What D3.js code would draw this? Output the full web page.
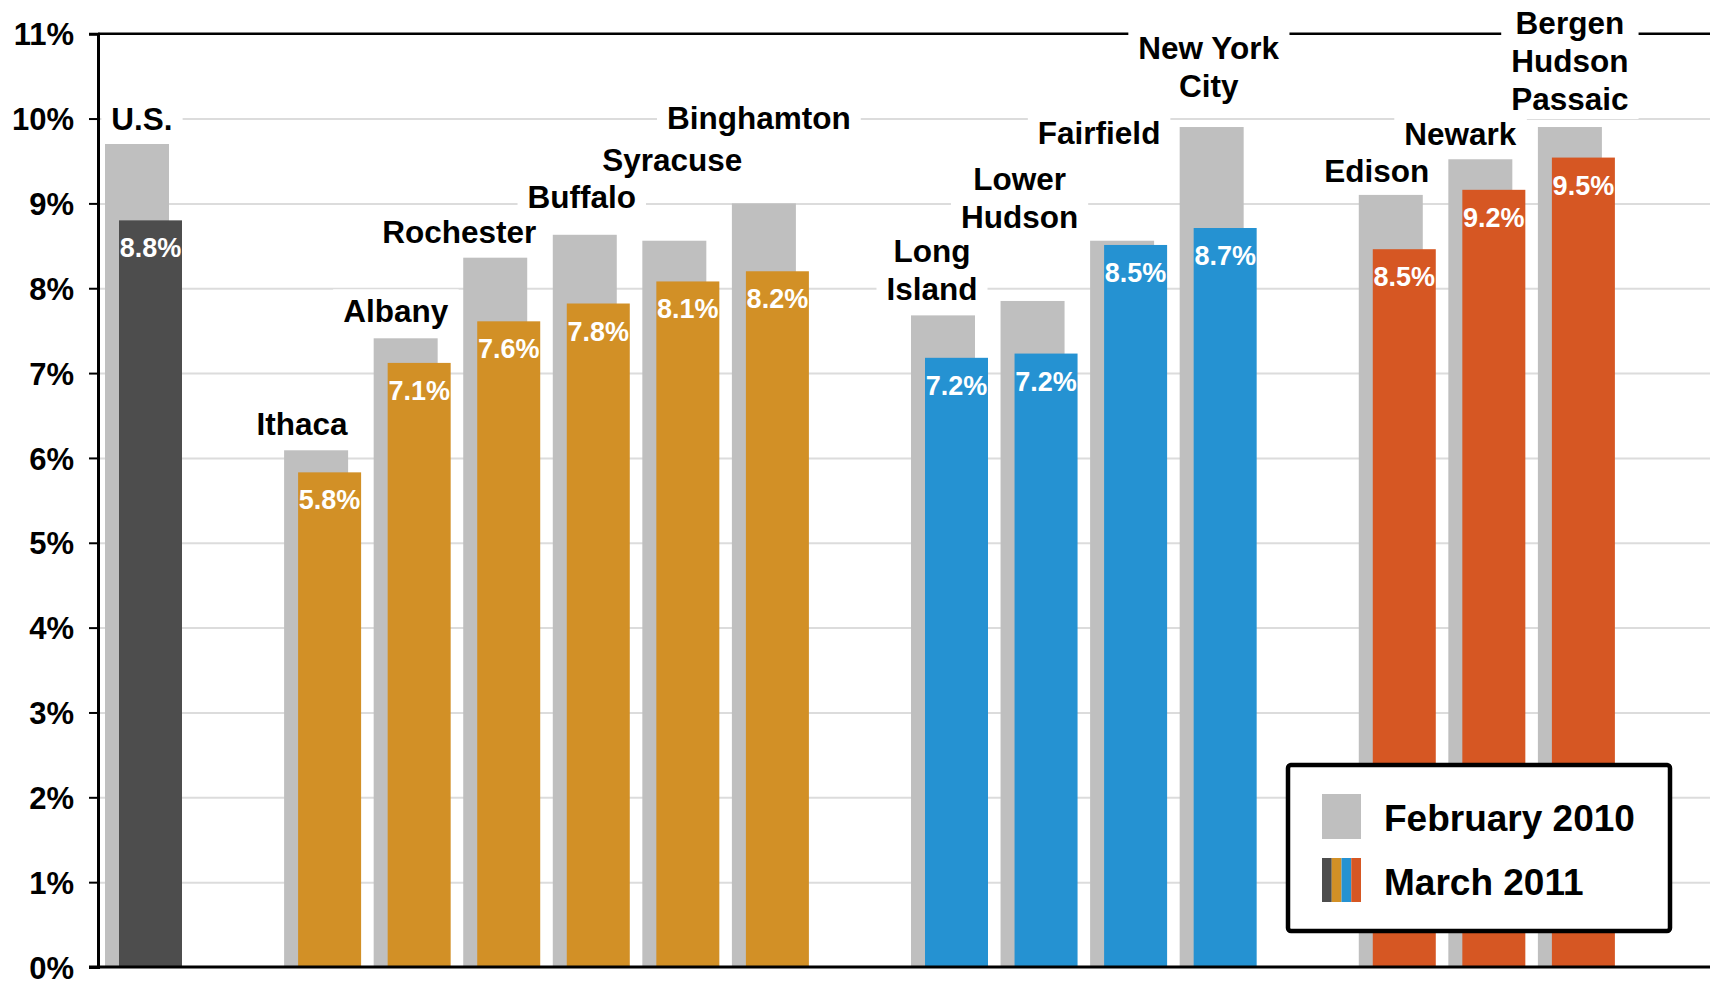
<!DOCTYPE html>
<html lang="en">
<head>
<meta charset="UTF-8">
<title>Unemployment rates</title>
<script src="https://d3js.org/d3.v7.min.js"></script>
<style>
  body { margin: 0; padding: 0; background: #fff; }
  svg { display: block; font-family: "Liberation Sans", Arial, sans-serif; font-weight: bold; }
</style>
</head>
<body>
<div id="chart"></div>
<script>
// data
var categories = ["U.S.", "Ithaca", "Albany", "Rochester", "Buffalo", "Syracuse", "Binghamton",
  "Long Island", "Lower Hudson", "Fairfield", "New York City", "Edison", "Newark", "Bergen Hudson Passaic"];
var labelLines = [["U.S."], ["Ithaca"], ["Albany"], ["Rochester"], ["Buffalo"], ["Syracuse"], ["Binghamton"],
  ["Long", "Island"], ["Lower", "Hudson"], ["Fairfield"], ["New York", "City"], ["Edison"], ["Newark"],
  ["Bergen", "Hudson", "Passaic"]];
var groups = ["us", "ny", "ny", "ny", "ny", "ny", "ny", "li", "li", "li", "li", "nj", "nj", "nj"];
var slots = [0, 2, 3, 4, 5, 6, 7, 9, 10, 11, 12, 14, 15, 16];
var feb2010 = [9.7, 6.09, 7.41, 8.36, 8.63, 8.56, 9.0, 7.68, 7.85, 8.56, 9.9, 9.1, 9.52, 9.9];
var mar2011 = [8.8, 5.83, 7.12, 7.61, 7.82, 8.08, 8.2, 7.18, 7.23, 8.51, 8.71, 8.46, 9.16, 9.54];
var yTicks = [0, 1, 2, 3, 4, 5, 6, 7, 8, 9, 10, 11];
var seriesNames = ["February 2010", "March 2011"];

// layout
var W = 1710, H = 989;
var plotLeft = 98, plotTop = 33.7, plotBottom = 967;
var colors = { feb: "#bfbfbf", us: "#4d4d4d", ny: "#d29026", li: "#2592d2", nj: "#d65723" };
// label nudges: dx from grey bar centre, lift above grey bar top
var nudge = [[5, 14], [-14, 15], [-10, 16], [-36, 15], [-3, 27], [-2, 70], [-5, 74],
  [-11, 15], [-13, 73], [-23, 97], [-3, 30], [-14, 13], [-20, 14], [0, 17]];

var svg = d3.select("#chart").append("svg").attr("width", W).attr("height", H);

var x = d3.scaleBand().domain(d3.range(18)).range([plotLeft, W]).paddingInner(0).paddingOuter(0);
var y = d3.scaleLinear().domain([0, 11]).range([plotBottom, plotTop]);

var greyOff = 7, greyW = 64, colOff = 21, colW = 63;

var rows = categories.map(function (c, i) {
  return { name: c, lines: labelLines[i], group: groups[i], slot: slots[i], feb: feb2010[i], mar: mar2011[i], nudge: nudge[i] };
});

// gridlines
svg.append("g")
  .attr("transform", "translate(" + plotLeft + ",0)")
  .call(d3.axisLeft(y).tickValues(yTicks.slice(1, -1)).tickSize(-(W - plotLeft)).tickFormat(""))
  .call(function (g) { g.select(".domain").remove(); })
  .selectAll("line").attr("stroke", "#dcdcdc").attr("stroke-width", 2);

// top border
svg.append("line")
  .attr("x1", plotLeft).attr("x2", W).attr("y1", y(11)).attr("y2", y(11))
  .attr("stroke", "#000").attr("stroke-width", 2.5);

// category labels
var lab = svg.append("g").selectAll("g").data(rows).enter().append("g");
var lineH = 38;
lab.each(function (d) {
  var g = d3.select(this);
  var cx = x(d.slot) + greyOff + greyW / 2 + d.nudge[0];
  var base = y(d.feb) - d.nudge[1];
  var n = d.lines.length;
  var t = g.append("text")
    .attr("text-anchor", "middle")
    .attr("font-size", 31.5)
    .attr("fill", "#000");
  d.lines.forEach(function (l, k) {
    t.append("tspan").attr("x", cx).attr("y", base - (n - 1 - k) * lineH).text(l);
  });
  var bb = t.node().getBBox();
  g.insert("rect", "text")
    .attr("x", bb.x - 10).attr("y", bb.y - 4)
    .attr("width", bb.width + 20).attr("height", bb.height + 6)
    .attr("fill", "#fff");
});

// bars
var bars = svg.append("g").selectAll("g").data(rows).enter().append("g");
bars.append("rect")
  .attr("x", function (d) { return x(d.slot) + greyOff; })
  .attr("y", function (d) { return y(d.feb); })
  .attr("width", greyW)
  .attr("height", function (d) { return y(0) - y(d.feb); })
  .attr("fill", colors.feb);
bars.append("rect")
  .attr("x", function (d) { return x(d.slot) + colOff; })
  .attr("y", function (d) { return y(d.mar); })
  .attr("width", colW)
  .attr("height", function (d) { return y(0) - y(d.mar); })
  .attr("fill", function (d) { return colors[d.group]; });
bars.append("text")
  .attr("x", function (d) { return x(d.slot) + colOff + colW / 2; })
  .attr("y", function (d) { return y(d.mar) + 37; })
  .attr("text-anchor", "middle")
  .attr("font-size", 27)
  .attr("fill", "#fff")
  .text(function (d) { return d3.format(".1f")(d.mar) + "%"; });

// axes
var ya = svg.append("g")
  .attr("transform", "translate(" + plotLeft + ",0)")
  .call(d3.axisLeft(y).tickValues(yTicks).tickSize(9).tickPadding(15).tickFormat(function (d) { return d + "%"; }));
ya.select(".domain").attr("stroke", "#000").attr("stroke-width", 3);
ya.selectAll(".tick line").attr("stroke", "#000").attr("stroke-width", 2);
ya.selectAll(".tick text").attr("font-size", 31).attr("font-family", "Liberation Sans, Arial, sans-serif")
  .attr("font-weight", "bold").attr("fill", "#000").attr("dy", "0.36em");

svg.append("line")
  .attr("x1", plotLeft - 9).attr("x2", W).attr("y1", y(0)).attr("y2", y(0))
  .attr("stroke", "#000").attr("stroke-width", 3);

// legend
var lg = svg.append("g").attr("transform", "translate(1288,765)");
lg.append("rect").attr("width", 382).attr("height", 166).attr("rx", 3)
  .attr("fill", "#fff").attr("stroke", "#000").attr("stroke-width", 4.5);
lg.append("rect").attr("x", 34).attr("y", 29).attr("width", 39).attr("height", 45).attr("fill", colors.feb);
var stripes = ["us", "ny", "li", "nj"];
lg.selectAll(".stripe").data(stripes).enter().append("rect")
  .attr("x", function (d, i) { return 34 + i * 9.75; })
  .attr("y", 93).attr("width", 9.75).attr("height", 44)
  .attr("fill", function (d) { return colors[d]; });
lg.selectAll(".lt").data(seriesNames).enter().append("text")
  .attr("x", 96)
  .attr("y", function (d, i) { return 66 + i * 64; })
  .attr("font-size", 37)
  .attr("fill", "#000")
  .text(function (d) { return d; });
</script>
</body>
</html>
